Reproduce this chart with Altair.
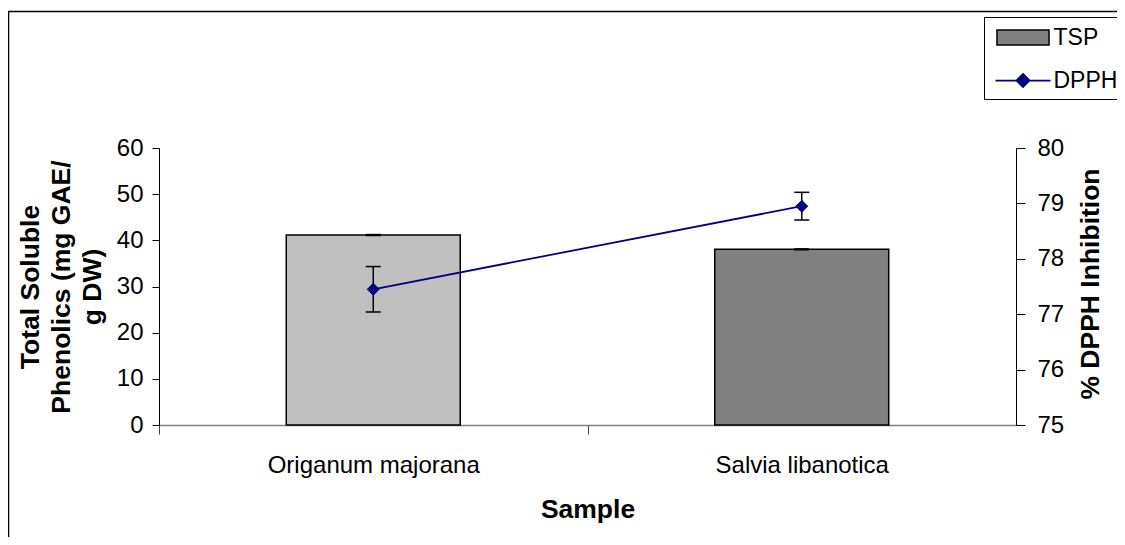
import altair as alt
import pandas as pd

# ---------------- data ----------------
samples = ["Origanum majorana", "Salvia libanotica"]
tsp_values = [41.15, 38.05]
tsp_errors = [0.1, 0.1]
dpph_values = [77.45, 78.95]
dpph_errors = [0.41, 0.25]
series_names = ["TSP", "DPPH"]
tsp_ticks = [0, 10, 20, 30, 40, 50, 60]
dpph_ticks = [75, 76, 77, 78, 79, 80]

# ---------------- style ----------------
FONT = "Liberation Sans"
FS = 24      # tick / category labels
TFS = 26.5   # axis titles
LFS = 23     # legend labels
W, H = 857, 277
NAVY = "#000080"
bar_fills = ["#C0C0C0", "#808080"]

df = pd.DataFrame({
    "sample": samples,
    "tsp": tsp_values,
    "tsp_lo": [v - e for v, e in zip(tsp_values, tsp_errors)],
    "tsp_hi": [v + e for v, e in zip(tsp_values, tsp_errors)],
    "dpph": dpph_values,
    "dpph_lo": [v - e for v, e in zip(dpph_values, dpph_errors)],
    "dpph_hi": [v + e for v, e in zip(dpph_values, dpph_errors)],
})

RECT_PATH = "M-3.47,-1H3.47V1H-3.47Z"
DPPH_PATH = "M-3.67,0H3.67M0,-0.87L0.87,0L0,0.87L-0.87,0Z"


def build(tick_custom=True):
    step = W / len(samples)

    x_kw = dict(orient="bottom", title="Sample", titleFont=FONT, titleFontSize=TFS,
                titleFontWeight="bold", titleColor="black", titleX=W / 2, titleY=84,
                titleBaseline="middle", titleAlign="center",
                labelFont=FONT, labelFontSize=FS, labelColor="black", labelAngle=0,
                labelPadding=19, labelLimit=500,
                bandPosition=0.5, tickOffset=-step / 2, labelOffset=step / 2,
                tickSize=9, tickColor="#404040", tickWidth=1,
                domainColor="#808080", domainWidth=1.5, grid=False)
    if tick_custom:
        x_kw["encode"] = {"ticks": {"y": {"value": -8}}}
    x_axis = alt.Axis(**x_kw)

    l_kw = dict(orient="left", values=tsp_ticks,
                title=["Total  Soluble", "Phenolics (mg GAE/", "g DW)"],
                titleFont=FONT, titleFontSize=TFS, titleFontWeight="bold", titleColor="black",
                titleAngle=270, titleX=-129, titleY=H / 2, titleAlign="center",
                titleBaseline="middle", titleLineHeight=31,
                labelFont=FONT, labelFontSize=FS, labelColor="black", labelPadding=9,
                labelFlush=False, tickSize=7, tickColor="black", tickWidth=1,
                domainColor="black", domainWidth=1, grid=False)
    if tick_custom:
        l_kw["encode"] = {"ticks": {"x": {"value": 8}}}
    left_axis = alt.Axis(**l_kw)

    r_kw = dict(orient="right", values=dpph_ticks, title="% DPPH Inhibition",
                titleFont=FONT, titleFontSize=TFS, titleFontWeight="bold", titleColor="black",
                titleAngle=270, titleX=74, titleY=H / 2 - 3, titleAlign="center",
                titleBaseline="middle",
                labelFont=FONT, labelFontSize=FS, labelColor="black", labelPadding=12,
                labelFlush=False, tickSize=9, tickColor="black", tickWidth=1,
                domainColor="black", domainWidth=1, grid=False)
    if tick_custom:
        r_kw["encode"] = {"ticks": {"x": {"value": -8}}}
    right_axis = alt.Axis(**r_kw)

    leg_common = dict(orient="none", legendX=833, title=None, padding=0,
                      symbolSize=225, symbolOffset=19.5, labelOffset=19,
                      labelFont=FONT, labelFontSize=LFS, labelColor="black",
                      labelLimit=500, symbolOpacity=1)
    legend_tsp = alt.Legend(legendY=-122, symbolType=RECT_PATH, symbolStrokeColor="black",
                            symbolStrokeWidth=1.5, **leg_common)
    legend_dpph = alt.Legend(legendY=-79, symbolType=DPPH_PATH, symbolFillColor=NAVY,
                             symbolStrokeWidth=1.75, **leg_common)

    X = alt.X("sample:N", sort=samples,
              scale=alt.Scale(domain=samples, paddingInner=0.594, paddingOuter=0.297),
              axis=x_axis)

    def Yt(f):
        return alt.Y(f"{f}:Q", scale=alt.Scale(domain=[0, 60], nice=False), axis=left_axis)

    def Yd(f):
        return alt.Y(f"{f}:Q", scale=alt.Scale(domain=[75, 80], nice=False, zero=False),
                     axis=right_axis)

    base = alt.Chart(df)
    one = pd.DataFrame({"k": [0]})

    border = alt.Chart(one).mark_rect(
        fill="transparent", stroke="black", strokeWidth=1.5
    ).encode(x=alt.value(-150.5), x2=alt.value(1100), y=alt.value(-136.5), y2=alt.value(700))

    legend_box = alt.Chart(one).mark_rect(
        fill="white", stroke="black", strokeWidth=1
    ).encode(x=alt.value(825.5), x2=alt.value(1100), y=alt.value(-130.5), y2=alt.value(-48.5))

    bars = base.mark_bar(stroke="black", strokeWidth=1.5).encode(
        x=X, y=Yt("tsp"),
        fill=alt.Fill("sample:N", scale=alt.Scale(domain=samples, range=bar_fills), legend=None),
    )
    tsp_rule = base.mark_rule(color="black", strokeWidth=1.5).encode(
        x=X, y=Yt("tsp_lo"), y2="tsp_hi")
    tsp_cap_lo = base.mark_tick(color="black", thickness=1.5, size=15, opacity=1).encode(
        x=X, y=Yt("tsp_lo"))
    tsp_cap_hi = base.mark_tick(color="black", thickness=1.5, size=15, opacity=1).encode(
        x=X, y=Yt("tsp_hi"))

    line = base.mark_line(strokeWidth=1.75, color=NAVY).encode(x=X, y=Yd("dpph"))
    d_rule = base.mark_rule(color="black", strokeWidth=1.5).encode(
        x=X, y=Yd("dpph_lo"), y2="dpph_hi")
    d_cap_lo = base.mark_tick(color="black", thickness=1.5, size=15, opacity=1).encode(
        x=X, y=Yd("dpph_lo"))
    d_cap_hi = base.mark_tick(color="black", thickness=1.5, size=15, opacity=1).encode(
        x=X, y=Yd("dpph_hi"))
    pts = base.mark_point(shape="diamond", filled=True, size=170, color=NAVY, opacity=1).encode(
        x=X, y=Yd("dpph"))

    # legend carrier: no rows are drawn, only the two legend entries from the scale domains
    leg = alt.Chart(pd.DataFrame({"tsp_key": [series_names[0]], "dpph_key": [series_names[1]]})
                    ).transform_filter("false").mark_point(filled=True, opacity=1).encode(
        fill=alt.Fill("tsp_key:N", scale=alt.Scale(domain=[series_names[0]], range=["#808080"]),
                      legend=legend_tsp),
        stroke=alt.Stroke("dpph_key:N", scale=alt.Scale(domain=[series_names[1]], range=[NAVY]),
                          legend=legend_dpph),
    )

    tsp_layer = alt.layer(border, legend_box, bars, tsp_rule, tsp_cap_lo, tsp_cap_hi)
    dpph_layer = alt.layer(line, d_rule, d_cap_lo, d_cap_hi, pts, leg)

    ch = alt.layer(tsp_layer, dpph_layer).resolve_scale(
        y="independent", fill="independent"
    ).properties(
        width=W, height=H,
        autosize=alt.AutoSizeParams(type="none"),
        padding={"left": 151, "top": 140, "right": 101, "bottom": 112},
    ).configure_view(stroke="transparent")
    return ch


try:
    chart = build(True)
    chart.to_dict()
except Exception:
    chart = build(False)

chart.save("out.html", embed_options={"renderer": "svg", "actions": False})
